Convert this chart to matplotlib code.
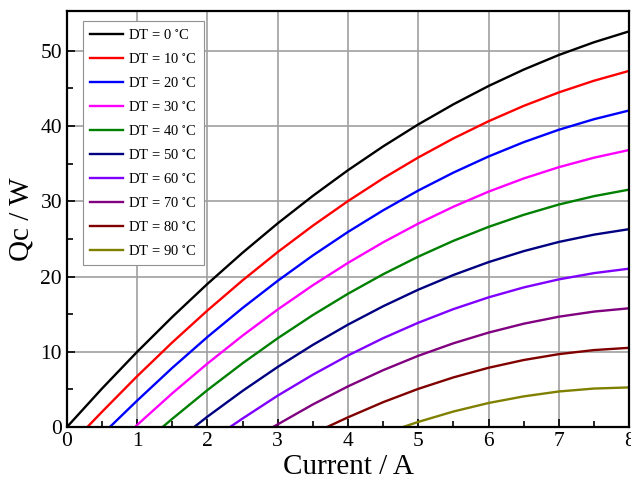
import numpy as np
import matplotlib
matplotlib.use('Agg')
from matplotlib import pyplot as plt

plt.rcParams['font.family'] = ['Liberation Serif', 'DejaVu Serif']
plt.rcParams['mathtext.fontset'] = 'stix'

# temperature differences and their colours
dts = [0, 10, 20, 30, 40, 50, 60, 70, 80, 90]
colors = ['black', 'red', 'blue', '#FF00FF', 'green', '#000080',
          '#8000FF', '#800080', '#800000', '#808000']

# current values (first point = where the curve crosses Qc = 0)
cur = {
    0:  [0, 0.5, 1, 1.5, 2, 2.5, 3, 3.5, 4, 4.5, 5, 5.5, 6, 6.5, 7, 7.5, 8],
    10: [0.29, 0.5, 1, 1.5, 2, 2.5, 3, 3.5, 4, 4.5, 5, 5.5, 6, 6.5, 7, 7.5, 8],
    20: [0.61, 1, 1.5, 2, 2.5, 3, 3.5, 4, 4.5, 5, 5.5, 6, 6.5, 7, 7.5, 8],
    30: [0.97, 1, 1.5, 2, 2.5, 3, 3.5, 4, 4.5, 5, 5.5, 6, 6.5, 7, 7.5, 8],
    40: [1.36, 1.5, 2, 2.5, 3, 3.5, 4, 4.5, 5, 5.5, 6, 6.5, 7, 7.5, 8],
    50: [1.81, 2, 2.5, 3, 3.5, 4, 4.5, 5, 5.5, 6, 6.5, 7, 7.5, 8],
    60: [2.32, 2.5, 3, 3.5, 4, 4.5, 5, 5.5, 6, 6.5, 7, 7.5, 8],
    70: [2.93, 3, 3.5, 4, 4.5, 5, 5.5, 6, 6.5, 7, 7.5, 8],
    80: [3.70, 4, 4.5, 5, 5.5, 6, 6.5, 7, 7.5, 8],
    90: [4.78, 5, 5.5, 6, 6.5, 7, 7.5, 8],
}

# cooling capacity Qc (W)
qc = {
    0:  [0, 5.12, 10.0, 14.63, 19.02, 23.16, 27.06, 30.71, 34.12, 37.28,
         40.2, 42.87, 45.3, 47.48, 49.42, 51.11, 52.56],
    10: [0, 2.03, 6.76, 11.25, 15.49, 19.49, 23.25, 26.75, 30.02, 33.04,
         35.81, 38.34, 40.62, 42.66, 44.45, 46.0, 47.31],
    20: [0, 3.52, 7.87, 11.97, 15.82, 19.43, 22.8, 25.92, 28.79, 31.42,
         33.8, 35.94, 37.84, 39.49, 40.89, 42.05],
    30: [0, 0.29, 4.49, 8.44, 12.15, 15.62, 18.84, 21.81, 24.54, 27.03,
         29.27, 31.27, 33.02, 34.52, 35.78, 36.8],
    40: [0, 1.1, 4.92, 8.48, 11.8, 14.88, 17.71, 20.3, 22.64, 24.74,
         26.59, 28.19, 29.56, 30.67, 31.54],
    50: [0, 1.39, 4.81, 7.99, 10.92, 13.61, 16.05, 18.25, 20.2, 21.91,
         23.37, 24.59, 25.56, 26.29],
    60: [0, 1.14, 4.18, 6.96, 9.51, 11.81, 13.86, 15.67, 17.23, 18.55,
         19.62, 20.45, 21.04],
    70: [0, 0.36, 3.01, 5.41, 7.56, 9.47, 11.13, 12.55, 13.73, 14.66,
         15.34, 15.78],
    80: [0, 1.3, 3.31, 5.08, 6.6, 7.88, 8.91, 9.69, 10.23, 10.53],
    90: [0, 0.69, 2.07, 3.2, 4.08, 4.73, 5.12, 5.27],
}

fig = plt.figure(figsize=(6.31, 4.87), dpi=100)
ax = fig.add_axes([0.106, 0.123, 0.891, 0.855])

for dt, c in zip(dts, colors):
    ax.plot(cur[dt], qc[dt], c=c, lw=1.7, label='DT = %d $^{\\circ}$C' % dt)

ax.set_xlim(0, 8)
ax.set_ylim(0, 55.3)
ax.set_xticks(range(0, 9))
ax.set_yticks(range(0, 51, 10))
ax.set_xticks(np.arange(0.5, 8, 1), minor=True)
ax.set_yticks(np.arange(5, 55, 10), minor=True)
ax.grid(True, which='major', color='#A0A0A0', lw=1.2)
ax.set_axisbelow(True)
ax.tick_params(which='both', direction='in', labelsize=15.5, width=1.2)
ax.tick_params(which='major', length=6)
ax.tick_params(which='minor', length=4)
for s in ax.spines.values():
    s.set_linewidth(1.6)

ax.set_xlabel('Current / A', fontsize=21, labelpad=2)
ax.set_ylabel('Qc / W', fontsize=21, labelpad=4)

leg = ax.legend(loc='upper left', bbox_to_anchor=(0.028, 0.975), borderaxespad=0,
                fontsize=10.5, handlelength=2.3, handletextpad=0.3,
                labelspacing=0.68, fancybox=False, edgecolor='#909090',
                framealpha=1, borderpad=0.5)
leg.get_frame().set_linewidth(0.8)

plt.savefig('out.png', dpi=100)
